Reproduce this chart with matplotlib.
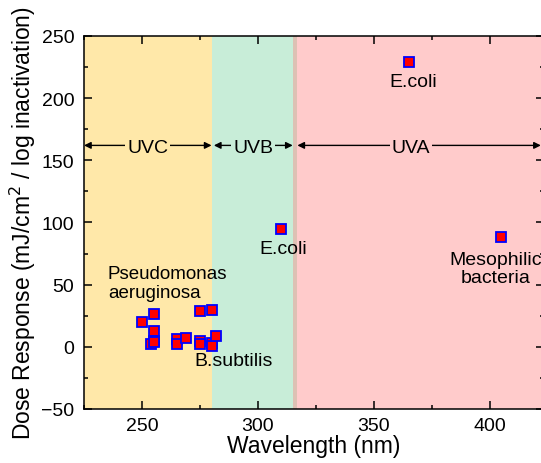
import matplotlib
matplotlib.use("agg")
import matplotlib.pyplot as plt
from matplotlib.ticker import MultipleLocator

plt.rcParams['font.family'] = ['Liberation Sans', 'DejaVu Sans']

# data
wavelength = [250, 255, 255, 255, 254, 255, 265, 265, 269, 275, 280, 275, 275, 280, 280, 282,
              310, 365, 405]
dose = [20, 26, 13, 5, 2, 4, 6, 2, 7, 29, 30, 5, 2, 3, 1, 9,
        95, 229, 88]

bands = ["UVC", "UVB", "UVA"]
band_edges = [(225, 280), (281, 315), (317, 422)]
band_text_x = [252.5, 298, 366]
arrow_y = 162

fig = plt.figure(figsize=(5.41, 4.64), dpi=100)
ax = fig.add_axes([0.1553, 0.1164, 0.850, 0.8039])

# shaded spectral regions
ax.axvspan(225, 280, color="#FFE8A9", lw=0)
ax.axvspan(280, 315, color="#C8EDD8", lw=0)
ax.axvspan(315, 317, color="#DDC1B4", lw=0)
ax.axvspan(317, 430, color="#FFCBCB", lw=0)
span_cols = ["#FFE8A9", "#C8EDD8", "#FFCBCB"]

for name, (a, b), tx, col in zip(bands, band_edges, band_text_x, span_cols):
    ax.annotate("", xy=(a, arrow_y), xytext=(b, arrow_y),
                arrowprops=dict(arrowstyle="<|-|>", color="black", lw=1,
                                mutation_scale=10, shrinkA=0, shrinkB=0))
    ax.text(tx, arrow_y - 2, name, ha="center", va="center", fontsize=14,
            bbox=dict(facecolor=col, edgecolor="none", pad=1.5))

ax.plot(wavelength, dose, ls="none", marker="s", markersize=7.5,
        markerfacecolor="red", markeredgecolor="blue", markeredgewidth=1.3)

ax.text(366.8, 213, "E.coli", ha="center", va="center", fontsize=14)
ax.text(310.8, 79, "E.coli", ha="center", va="center", fontsize=14)
ax.text(402.5, 63, "Mesophilic\nbacteria", ha="center", va="center",
        fontsize=14, linespacing=1.15)
ax.text(235.3, 51, "Pseudomonas\naeruginosa", ha="left", va="center",
        fontsize=13.5, linespacing=1.15)
ax.text(272.8, -11, "B.subtilis", ha="left", va="center", fontsize=14)

ax.set_xlim(225, 423.3)
ax.set_ylim(-50, 250)
ax.xaxis.set_major_locator(MultipleLocator(50))
ax.xaxis.set_minor_locator(MultipleLocator(25))
ax.yaxis.set_major_locator(MultipleLocator(50))
ax.yaxis.set_minor_locator(MultipleLocator(25))
ax.tick_params(which="both", direction="in", top=True, right=True, width=1.1,
               labelsize=14)
ax.tick_params(which="major", length=5.5)
ax.tick_params(which="minor", length=3)
ax.tick_params(axis="y", pad=7)
ax.tick_params(axis="x", pad=6)
for s in ax.spines.values():
    s.set_linewidth(1.1)
ax.yaxis.set_major_formatter(matplotlib.ticker.FuncFormatter(
    lambda v, p: f"{int(v)}".replace("-", "\u2212")))

ax.set_xlabel("Wavelength (nm)", fontsize=16.5, labelpad=0)
ax.set_ylabel("Dose Response (mJ/cm$^2$ / log inactivation)", fontsize=16.5, labelpad=2)

fig.savefig("out.png", dpi=100)
